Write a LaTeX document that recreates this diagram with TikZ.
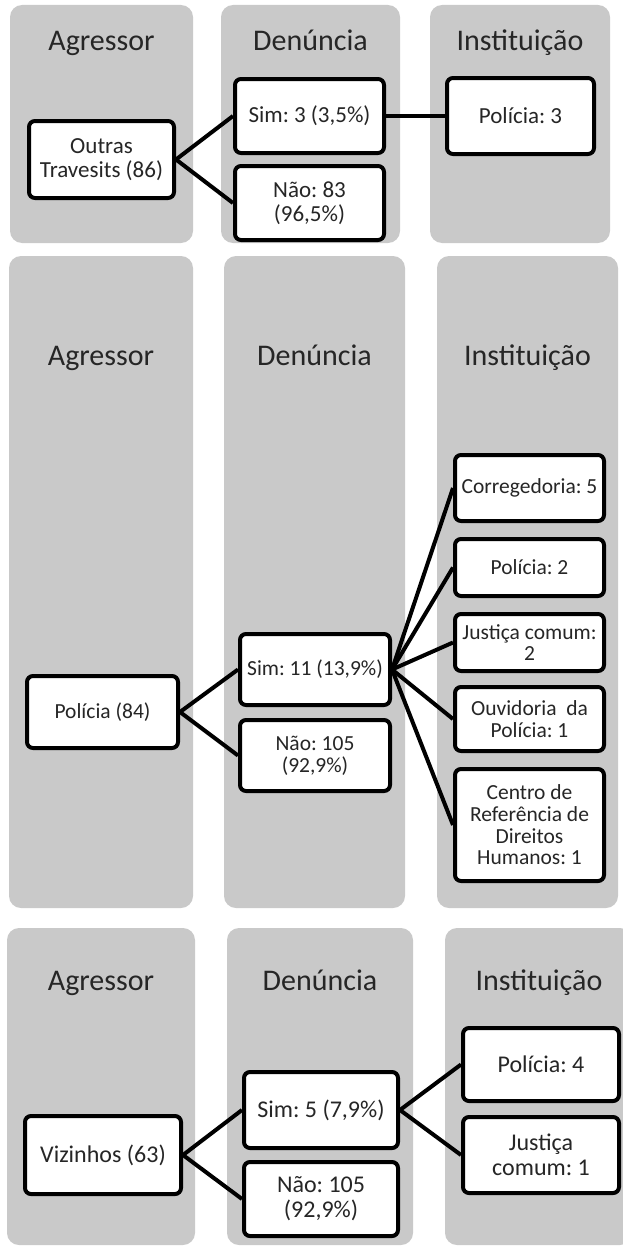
\documentclass[tikz,border=0pt]{standalone}
\usepackage{fontspec}
\setmainfont{Carlito}
\frenchspacing
\usepackage{tikz}
\usetikzlibrary{positioning}
\definecolor{lanegray}{HTML}{C9C9C9}
\definecolor{inkgray}{HTML}{262626}
\tikzstyle{lane} = [fill=lanegray, rounded corners=12pt]
\tikzstyle{head} = [text=inkgray, anchor=base, font=\fontsize{30}{36}\selectfont]
\tikzstyle{box} = [rectangle, rounded corners=6pt, draw=black, line width=4pt, fill=white, text=inkgray, align=center, inner sep=2pt]
\tikzstyle{link} = [line width=4pt, draw=black]
\begin{document}
\begin{tikzpicture}[x=1pt, y=-1pt]
	\useasboundingbox (0,0) rectangle (623,1247);
	% colunas
	\fill [lane] (10,5) rectangle (193,243);
	\fill [lane] (221,5) rectangle (400,243);
	\fill [lane] (430,5) rectangle (610,243);
	\fill [lane] (9,256) rectangle (193,908);
	\fill [lane] (224,256) rectangle (405,908);
	\fill [lane] (437,256) rectangle (618,908);
	\fill [lane] (7,928) rectangle (195,1245);
	\fill [lane] (227,928) rectangle (413,1245);
	\fill [lane] (445,928) rectangle (632,1245);
	% titulos
	\node (agr1) [head] at (101.5,51) {Agressor};
	\node (den1) [head] at (310.5,51) {Denúncia};
	\node (ins1) [head] at (520,51) {Instituição};
	\node (agr2) [head] at (101,365) {Agressor};
	\node (den2) [head] at (314.5,365) {Denúncia};
	\node (ins2) [head] at (527.5,365) {Instituição};
	\node (agr3) [head] at (101,990) {Agressor};
	\node (den3) [head] at (320,990) {Denúncia};
	\node (ins3) [head] at (539,990) {Instituição};
	% outras travestis
	\begin{scope}[every node/.style={font=\fontsize{23}{24}\selectfont}]
	\node (outras) [box, minimum width=145pt, minimum height=77pt] at (101.5,159.5) {Outras\\Travesits (86)};
	\node (sim1) [box, minimum width=149pt, minimum height=74pt] at (309.5,116) {Sim: 3 (3,5\%)};
	\node (nao1) [box, minimum width=149pt, minimum height=74pt] at (309.5,203) {Não: 83\\(96,5\%)};
	\node (pol1) [box, minimum width=147pt, minimum height=76pt] at (520.5,116) {Polícia: 3};
	\end{scope}
	% policia
	\begin{scope}[every node/.style={font=\fontsize{21.5}{21.7}\selectfont}]
	\node (pol84) [box, minimum width=151pt, minimum height=72pt] at (102.5,712) {Polícia (84)};
	\node (sim2) [box, minimum width=150pt, minimum height=71pt] at (315,669.5) {Sim: 11 (13,9\%)};
	\node (nao2) [box, minimum width=150pt, minimum height=71pt] at (315,755.5) {Não: 105\\(92,9\%)};
	\node (corr) [box, minimum width=149pt, minimum height=66pt] at (529.5,488) {Corregedoria: 5};
	\node (pol2) [box, minimum width=149pt, minimum height=57pt] at (529.5,567.5) {Polícia: 2};
	\node (just2) [box, minimum width=149pt, minimum height=57pt] at (529.5,642.5) {Justiça comum:\\2};
	\node (ouv) [box, minimum width=149pt, minimum height=64pt] at (529.5,719) {Ouvidoria~ da\\Polícia: 1};
	\node (centro) [box, minimum width=149pt, minimum height=112pt] at (529.5,825) {Centro de\\Referência de\\Direitos\\Humanos: 1};
	\end{scope}
	% vizinhos
	\begin{scope}[every node/.style={font=\fontsize{24}{25}\selectfont}]
	\node (viz) [box, minimum width=156pt, minimum height=78pt] at (103,1155) {Vizinhos (63)};
	\node (sim3) [box, minimum width=154pt, minimum height=76pt] at (321,1110) {Sim: 5 (7,9\%)};
	\node (nao3) [box, minimum width=154pt, minimum height=74pt] at (321,1199) {Não: 105\\(92,9\%)};
	\node (pol4) [box, minimum width=156pt, minimum height=73pt] at (541,1064.5) {Polícia: 4};
	\node (just3) [box, minimum width=156pt, minimum height=76pt] at (541,1155) {Justiça\\comum: 1};
	\end{scope}
	% ligacoes
	\draw [link] (outras.east) -- (sim1.west);
	\draw [link] (outras.east) -- (nao1.west);
	\draw [link] (sim1.east) -- (pol1.west);
	\draw [link] (pol84.east) -- (sim2.west);
	\draw [link] (pol84.east) -- (nao2.west);
	\foreach \inst in {corr, pol2, just2, ouv, centro}
		\draw [link] (sim2.east) -- (\inst.west);
	\draw [link] (viz.east) -- (sim3.west);
	\draw [link] (viz.east) -- (nao3.west);
	\draw [link] (sim3.east) -- (pol4.west);
	\draw [link] (sim3.east) -- (just3.west);
\end{tikzpicture}
\end{document}
